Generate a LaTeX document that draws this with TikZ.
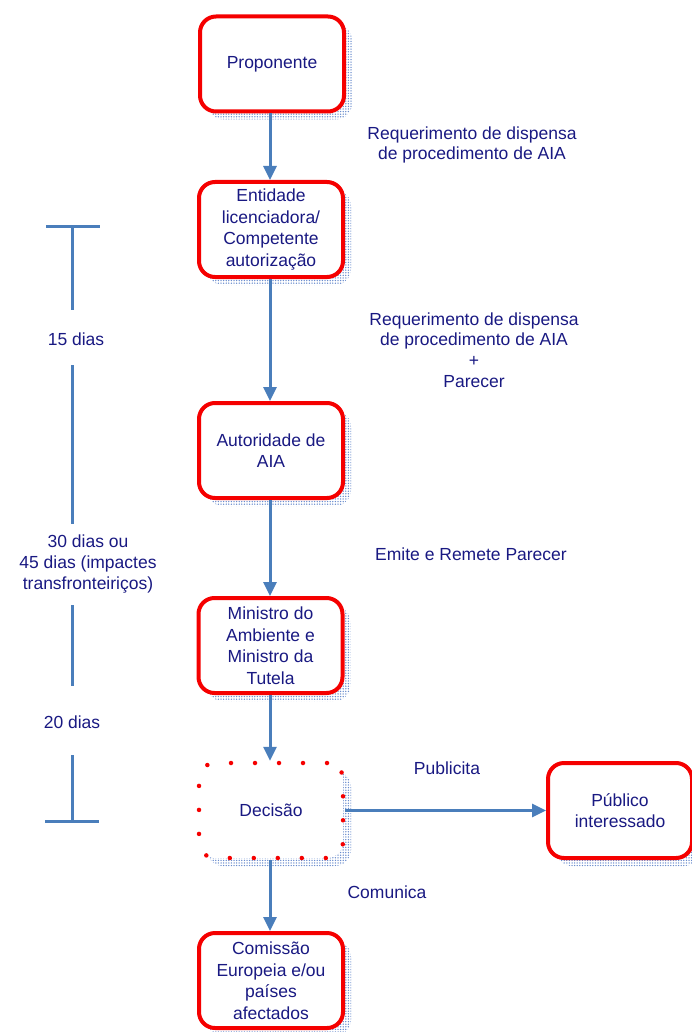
\documentclass[tikz,border=0pt]{standalone}
\usepackage{fontspec}
\setmainfont{Liberation Sans}
\usetikzlibrary{arrows.meta,patterns,patterns.meta,shadows}
\definecolor{txt}{RGB}{25,25,130}
\definecolor{flow}{RGB}{74,126,187}
\definecolor{frame}{RGB}{245,0,0}
\definecolor{shade}{RGB}{105,140,205}

\begin{document}
\begin{tikzpicture}[x=1pt,y=-1pt,
  every node/.style={text=txt,font=\fontsize{17.5}{21.5}\selectfont,align=center,inner sep=0pt},
  boxshadow/.style={general shadow={shadow xshift=8pt,shadow yshift=-8pt,
      pattern={Dots[distance=2.6pt,radius=0.75pt]},pattern color=shade}},
  stage/.style={draw=frame,line width=4pt,rounded corners=16pt,fill=white,
      minimum width=144pt,minimum height=95pt,boxshadow},
  dotstage/.style={draw=frame,line width=4.5pt,rounded corners=16pt,fill=white,
      minimum width=144pt,minimum height=95pt,dash pattern=on 0pt off 24pt,
      line cap=round,boxshadow},
  flowline/.style={draw=flow,line width=3pt,-{Triangle[length=14pt,width=13pt]}},
  timeline/.style={draw=flow,line width=3pt},
  note/.style={font=\fontsize{17.5}{20.7}\selectfont}
]
\useasboundingbox (0,0) rectangle (692,1032);

% main sequence of stages
\node[stage] (prop) at (272,64) {Proponente};
\node[stage] (ent) at (271,229.5) {Entidade\\licenciadora/\\Competente\\autorização};
\node[stage] (aut) at (271,450.5) {Autoridade de\\AIA};
\node[stage] (min) at (270.5,645.5) {Ministro do\\Ambiente e\\Ministro da\\Tutela};
\node[dotstage] (dec) at (271,810.5) {Decisão};
\node[stage] (pub) at (620,810.5) {Público\\interessado};
\node[stage] (com) at (271,980.5) {Comissão\\Europeia e/ou\\países\\afectados};

% connectors
\draw[flowline] (prop.south -| 270,0) -- (ent.north -| 270,0);
\draw[flowline] (ent.south -| 270,0) -- (aut.north -| 270,0);
\draw[flowline] (aut.south -| 270,0) -- (min.north -| 270,0);
\draw[flowline] (min.south -| 270,0) -- (dec.north -| 270,0);
\draw[flowline] (dec.south -| 270,0) -- (com.north -| 270,0);
\draw[flowline] (dec.east) -- (pub.west);

% connector labels
\node[note] (l1) at (472,145) {Requerimento de dispensa\\de procedimento de AIA};
\node[note] (l2) at (474,350) {Requerimento de dispensa\\de procedimento de AIA\\+\\Parecer};
\node[note] (l3) at (471,554) {Emite e Remete Parecer};
\node[note] (l4) at (447,768) {Publicita};
\node[note] (l5) at (387,892) {Comunica};

% time scale on the left
\node[note] (d15) at (76,339) {15 dias};
\node[note] (d30) at (88,564) {30 dias ou\\45 dias (impactes\\transfronteiriços)};
\node[note] (d20) at (72,722) {20 dias};
\coordinate (tTopL) at (46,227);
\coordinate (tTopR) at (100,227);
\coordinate (tTop) at (72,227);
\coordinate (tA) at (72,310);
\coordinate (tB) at (72,365);
\coordinate (tC) at (72,524);
\coordinate (tD) at (72,605);
\coordinate (tE) at (72,686);
\coordinate (tF) at (72,755);
\coordinate (tBot) at (72,821);
\coordinate (tBotL) at (45,821);
\coordinate (tBotR) at (99,821);
\draw[timeline] (tTopL) -- (tTopR);
\draw[timeline] (tTop) -- (tA);
\draw[timeline] (tB) -- (tC);
\draw[timeline] (tD) -- (tE);
\draw[timeline] (tF) -- (tBot);
\draw[timeline] (tBotL) -- (tBotR);
\end{tikzpicture}
\end{document}
